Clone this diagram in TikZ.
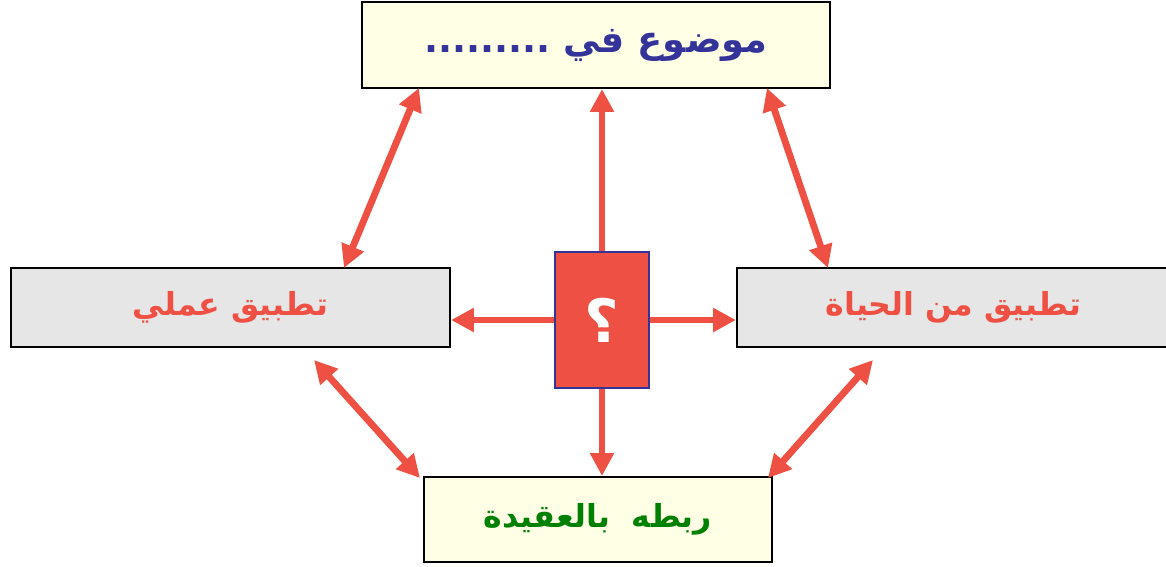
\documentclass[tikz,border=0pt]{standalone}
\usepackage{fontspec}
\usetikzlibrary{arrows.meta}
\TeXXeTstate=1
\newfontfamily\arabicfont[Script=Arabic]{DejaVu Sans}
\definecolor{myred}{HTML}{EF5044}
\definecolor{myblue}{HTML}{333399}
\definecolor{mygreen}{HTML}{008000}
\definecolor{myyellow}{HTML}{FFFFE6}
\definecolor{mygrey}{HTML}{E6E6E6}
\tikzset{
  box/.style={draw=black, line width=1.2pt, inner sep=0pt, anchor=center,
    font=\arabicfont\bfseries\fontsize{18}{22}\selectfont},
  conn/.style={draw=myred, line width=3.9pt,
    {Triangle[length=13pt,width=13pt]}-{Triangle[length=13pt,width=13pt]}},
  oneway/.style={draw=myred, line width=3.9pt, -{Triangle[length=13pt,width=13pt]}}
}
\begin{document}
\begin{tikzpicture}[x=0.02cm,y=-0.02cm]
\useasboundingbox (0,0) rectangle (1166,566);
\node[box, fill=myyellow, text=myblue, minimum width=468*0.02cm, minimum height=86*0.02cm,
  font=\arabicfont\bfseries\fontsize{21}{24}\selectfont] (top) at (596,45) {\beginR موضوع في .........\endR};
\node[box, fill=mygrey, text=myred, minimum width=439*0.02cm, minimum height=79*0.02cm] (left) at (230.5,307.5) {\beginR تطبيق عملي\endR};
\node[box, fill=mygrey, text=myred, minimum width=433*0.02cm, minimum height=79*0.02cm] (right) at (953.5,307.5) {\beginR تطبيق من الحياة\endR};
\node[box, fill=myyellow, text=mygreen, minimum width=348*0.02cm, minimum height=85*0.02cm] (bottom) at (598,519.5) {\beginR ربطه\ \ بالعقيدة\endR};
\node[draw=myblue, line width=1.2pt, fill=myred, text=white, minimum width=94*0.02cm, minimum height=136*0.02cm, inner sep=0pt,
  font=\arabicfont\bfseries\fontsize{34}{38}\selectfont] (q) at (602,320) {؟};
% connector endpoints
\coordinate (tl1) at (419,88);
\coordinate (tl2) at (344,268);
\coordinate (tr1) at (767,88);
\coordinate (tr2) at (828,268);
\coordinate (bl1) at (314,360);
\coordinate (bl2) at (420,478);
\coordinate (br1) at (873,360);
\coordinate (br2) at (768,478);
\draw[conn] (tl1) -- (tl2);
\draw[conn] (tr1) -- (tr2);
\draw[conn] (bl1) -- (bl2);
\draw[conn] (br1) -- (br2);
\draw[oneway] (q.north) -- (q.north |- top.south);
\draw[oneway] (q.south) -- (q.south |- bottom.north);
\draw[oneway] (q.west) -- (q.west -| left.east);
\draw[oneway] (q.east) -- (q.east -| right.west);
\end{tikzpicture}
\end{document}
